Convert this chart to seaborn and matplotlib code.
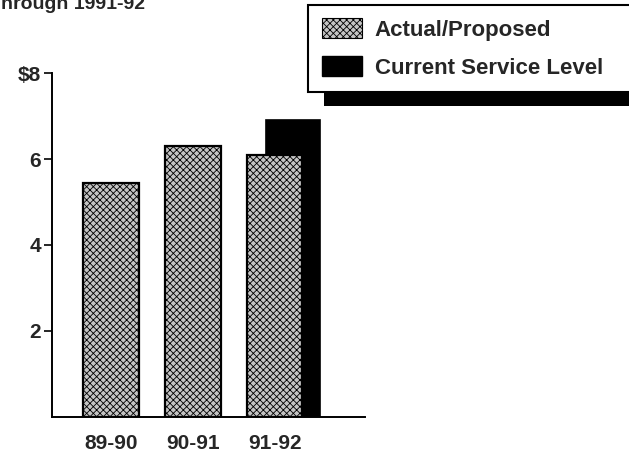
import matplotlib as mpl

mpl.use("Agg")
import matplotlib.pyplot as plt
import numpy as np
import pandas as pd
import seaborn as sns
from matplotlib.patches import Patch, Rectangle

# values (billions of dollars)
years = ["89-90", "90-91", "91-92"]
actual = [5.45, 6.3, 6.1]
current_service = [np.nan, np.nan, 6.9]
y_ticks = [2, 4, 6, 8]
y_tick_labels = ["2", "4", "6", "$8"]
title_text = "Through 1991-92"
legend_labels = ["Actual/Proposed", "Current Service Level"]

HATCH = "xxxxx"
FILL = "#c4c4c4"

sns.set_theme(style="white")
plt.rcParams["font.family"] = ["Liberation Sans", "DejaVu Sans"]
plt.rcParams["font.weight"] = "bold"
plt.rcParams["hatch.linewidth"] = 0.6
plt.rcParams["hatch.color"] = "black"

df = pd.DataFrame({"year": years, "actual": actual, "current": current_service})

fig = plt.figure(figsize=(6.29, 4.68), dpi=100)
ax = fig.add_axes((0.083, 0.109, 0.498, 0.735))

# current service level bar sits behind, shifted right
sns.barplot(
    data=df, x="year", y="current", color="black", saturation=1,
    width=0.66, edgecolor="black", linewidth=1.2, ax=ax, zorder=1,
)
for p in ax.patches:
    p.set_x(p.get_x() + 0.22)

sns.barplot(
    data=df, x="year", y="actual", color=FILL, saturation=1,
    width=0.68, edgecolor="black", linewidth=1.6, hatch=HATCH, ax=ax, zorder=2,
)

ax.set_xlim(-0.72, 3.11)
ax.set_ylim(0, 8)
ax.set_yticks(y_ticks)
ax.set_yticklabels(y_tick_labels, fontsize=15, fontweight="bold")
ax.set_xlabel("")
ax.set_ylabel("")
ax.tick_params(axis="y", direction="out", length=6, width=1.4, left=True, pad=2)
ax.tick_params(axis="x", length=0, pad=12, labelsize=15)
for lab in ax.get_xticklabels():
    lab.set_fontweight("bold")

sns.despine(ax=ax)
for side in ["left", "bottom"]:
    ax.spines[side].set_linewidth(1.4)
    ax.spines[side].set_color("black")

# cut-off title at the top
fig.text(-0.018, 1 - 9 / 468, title_text, fontsize=14, fontweight="bold",
         va="baseline", ha="left")

handles = [
    Patch(facecolor=FILL, edgecolor="black", hatch=HATCH, linewidth=0.8,
          label=legend_labels[0]),
    Patch(facecolor="black", edgecolor="black", label=legend_labels[1]),
]
leg = fig.legend(
    handles=handles, loc="upper left", bbox_to_anchor=(0.49, 0.0, 0.6, 0.99),
    mode="expand", frameon=True, fancybox=False, borderaxespad=0,
    handlelength=1.8, handleheight=1.0, handletextpad=0.6,
    labelspacing=0.7, borderpad=0.6, prop={"weight": "bold", "size": 16},
)
leg.get_frame().set_edgecolor("black")
leg.get_frame().set_linewidth(1.5)
leg.get_frame().set_alpha(1)

# heavy drop shadow under the legend box
fig.canvas.draw()
bb = leg.get_window_extent().transformed(fig.transFigure.inverted())
shadow = Rectangle(
    (bb.x0 + 16 / 629, bb.y0 - 14 / 468), bb.width, bb.height,
    transform=fig.transFigure, facecolor="black", edgecolor="none",
    zorder=leg.get_zorder() - 1,
)
fig.add_artist(shadow)

fig.savefig("out.png", dpi=100)
